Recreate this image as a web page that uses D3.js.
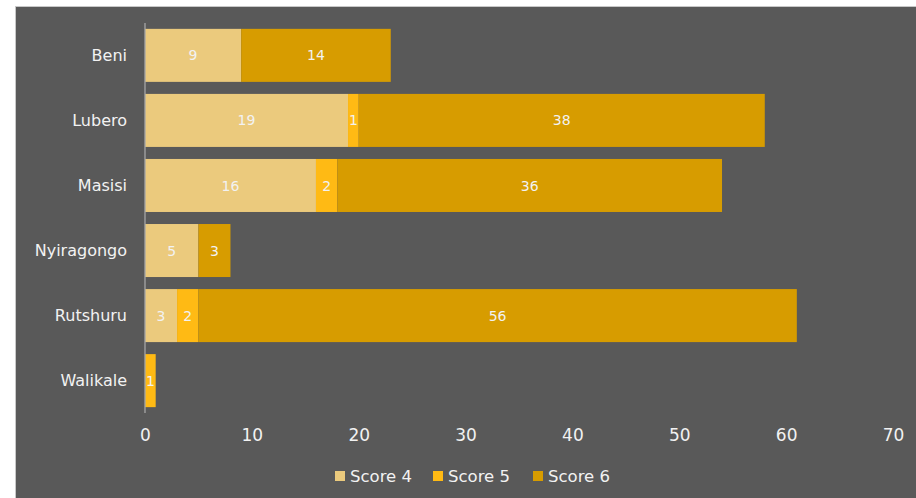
<!DOCTYPE html>
<html>
<head>
<meta charset="utf-8">
<style>
    body { margin: 0; background: #fff; }
    text { font-family: "DejaVu Sans", sans-serif; fill: #f2f2f2; }
    .seglabel { font-size: 14px; }
    .cat { font-size: 16px; }
    .tick text { font-size: 17px; }
    .legend text { font-size: 16.5px; }
</style>
</head>
<body>
<script src="https://cdn.jsdelivr.net/npm/d3@7"></script>
<script>

var W = 916, H = 498;
var districts = ["Beni", "Lubero", "Masisi", "Nyiragongo", "Rutshuru", "Walikale"];
var seriesNames = ["Score 4", "Score 5", "Score 6"];
var score4 = [9, 19, 16, 5, 3, 0];
var score5 = [0, 1, 2, 0, 2, 1];
var score6 = [14, 38, 36, 3, 56, 0];
var xTicks = [0, 10, 20, 30, 40, 50, 60, 70];
var colors = ["#ebca7d", "#ffba14", "#d79c00"];

var rows = districts.map(function(d, i) {
    return {name: d, "Score 4": score4[i], "Score 5": score5[i], "Score 6": score6[i]};
});

var svg = d3.select("body").append("svg")
        .attr("width", W)
        .attr("height", H);

// panel background with thin light edge
svg.append("rect")
        .attr("x", 15.5).attr("y", 6.5)
        .attr("width", W).attr("height", H)
        .attr("fill", "#595959")
        .attr("stroke", "#c8c8c8")
        .attr("stroke-width", 1);

var x = d3.scaleLinear().domain([0, 70]).range([145, 893]);
var y = d3.scaleBand().domain(districts).range([23, 413]).paddingInner(0.185).paddingOuter(0.09);

var stack = d3.stack().keys(seriesNames)(rows);

var layers = svg.selectAll(".layer")
        .data(stack)
        .enter().append("g")
        .attr("class", "layer")
        .attr("fill", function(d, i) { return colors[i]; });

layers.selectAll("rect")
        .data(function(d) { return d.filter(function(p) { return p[1] - p[0] > 0; }); })
        .enter().append("rect")
        .attr("x", function(d) { return x(d[0]); })
        .attr("y", function(d) { return y(d.data.name); })
        .attr("width", function(d) { return x(d[1]) - x(d[0]); })
        .attr("height", y.bandwidth());

layers.selectAll(".seglabel")
        .data(function(d) { return d.filter(function(p) { return p[1] - p[0] > 0; }); })
        .enter().append("text")
        .attr("class", "seglabel")
        .attr("x", function(d) { return (x(d[0]) + x(d[1])) / 2; })
        .attr("y", function(d) { return y(d.data.name) + y.bandwidth() / 2; })
        .attr("dy", "0.36em")
        .attr("text-anchor", "middle")
        .text(function(d) { return d[1] - d[0]; });

// category labels
svg.selectAll(".cat")
        .data(districts)
        .enter().append("text")
        .attr("class", "cat")
        .attr("x", 127)
        .attr("y", function(d) { return y(d) + y.bandwidth() / 2; })
        .attr("dy", "0.36em")
        .attr("text-anchor", "end")
        .text(function(d) { return d; });

// vertical axis line
svg.append("line")
        .attr("x1", x(0)).attr("x2", x(0))
        .attr("y1", 23).attr("y2", 413)
        .attr("stroke", "#a6a6a6")
        .attr("stroke-width", 1.3);

// x axis labels
var xAxis = svg.append("g")
        .attr("transform", "translate(0,429)")
        .call(d3.axisBottom(x).tickValues(xTicks).tickSize(0).tickPadding(0));
xAxis.select(".domain").remove();
xAxis.selectAll("text").attr("fill", "#f2f2f2").attr("dy", "0.71em")
        .style("font-family", "'DejaVu Sans', sans-serif");

// legend
var legendX = [335, 433, 533];
var legend = svg.append("g").attr("class", "legend");
var items = legend.selectAll("g")
        .data(seriesNames)
        .enter().append("g")
        .attr("transform", function(d, i) { return "translate(" + legendX[i] + ",471)"; });
items.append("rect")
        .attr("width", 10).attr("height", 10)
        .attr("fill", function(d, i) { return colors[i]; });
items.append("text")
        .attr("x", 15).attr("y", 5)
        .attr("dy", "0.36em")
        .text(function(d) { return d; });

</script>
</body>
</html>
